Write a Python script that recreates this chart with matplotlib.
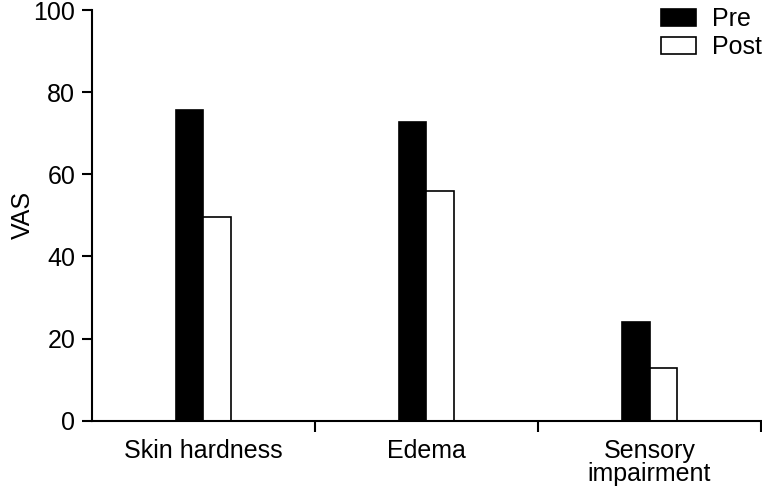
import numpy as np
import matplotlib.pyplot as plt

plt.rcParams['font.family'] = ['Liberation Sans', 'DejaVu Sans']

categories = ['Skin hardness', 'Edema', 'Sensory\nimpairment']
pre_values = [75.6, 72.7, 24.0]
post_values = [49.6, 55.9, 12.9]
y_ticks = [0, 20, 40, 60, 80, 100]

fig = plt.figure(figsize=(7.62, 4.90), dpi=100)
ax = fig.add_axes([0.1207, 0.1414, 0.878, 0.838])

x = np.arange(len(categories))
w = 0.122
ax.bar(x - w / 2, pre_values, w, color='black', edgecolor='black', linewidth=1.2, label='Pre')
ax.bar(x + w / 2, post_values, w, color='white', edgecolor='black', linewidth=1.2, label='Post')

ax.set_xlim(-0.5, 2.5)
ax.set_ylim(0, 100)
ax.set_yticks(y_ticks)
ax.set_xticks([0.5, 1.5, 2.5])
ax.set_xticklabels([])
ax.set_xticks(x, minor=True)
ax.set_xticklabels(categories, minor=True, fontsize=18, linespacing=0.95)
ax.tick_params(axis='x', which='minor', length=0, pad=13)
ax.tick_params(axis='x', which='major', length=8, width=1.5, direction='out')
ax.tick_params(axis='y', length=7, width=1.5, labelsize=18, pad=5)

ax.set_ylabel('VAS', fontsize=18)
ax.yaxis.set_label_coords(-0.085, 0.5)

for side in ['top', 'right']:
    ax.spines[side].set_visible(False)
for side in ['left', 'bottom']:
    ax.spines[side].set_linewidth(1.5)
ax.spines['bottom'].set_zorder(5)

ax.legend(loc='upper right', bbox_to_anchor=(1.016, 1.032), frameon=False, fontsize=18,
          handlelength=1.4, handleheight=0.65, handletextpad=0.65, labelspacing=0.17, borderaxespad=0)

fig.savefig('out.png', dpi=100, facecolor='white')
